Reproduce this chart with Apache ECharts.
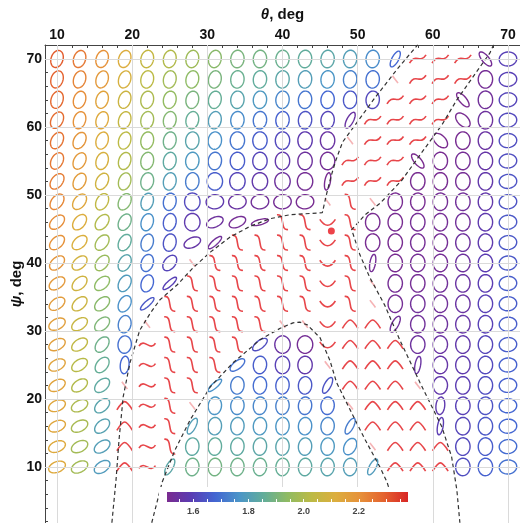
<!DOCTYPE html>
<html><head><meta charset="utf-8">
<script src="https://cdn.jsdelivr.net/npm/echarts@6/dist/echarts.min.js"></script>
<style>html,body{margin:0;padding:0;background:#fff}#c{width:520px;height:523px}</style>
</head><body><div id="c"></div>
<script>
// ---------- data ----------
const THETA = [10,13,16,19,22,25,28,31,34,37,40,43,46,49,52,55,58,61,64,67,70];
const PSI   = [70,67,64,61,58,55,52,49,46,43,40,37,34,31,28,25,22,19,16,13,10];
const AXIS_TICKS = [10,20,30,40,50,60,70];
const MINOR_TICKS = [2,4,6,8,10,12,14,16,18,20,22,24,26,28,30,32,34,36,38,40,42,44,46,48,50,52,54,56,58,60,62,64,66,68,70,72];
const BAR_LABELS = [1.6,1.8,2.0,2.2];
const BAR_TICKS = [1.55,1.60,1.65,1.70,1.75,1.80,1.85,1.90,1.95,2.00,2.05,2.10,2.15,2.20,2.25,2.30,2.35];
const VMIN = 1.505, VMAX = 2.378;
const PALETTE = ['#7a2b8f','#5a3cb3','#4366d2','#4b95c8','#62ad9a','#8fbb63','#bcba45','#dcae3e','#e6913a','#e4622e','#d82626'];

// ellipse colour value per cell (row = psi, col = theta); null = red glyph cell
const R0  = [2.30,2.25,2.20,2.12,2.05,2.01,1.97,1.93,1.90,1.89,1.87,1.85,1.83,1.80,1.75,1.68,null,null,null,1.52,1.60];
const R1  = [2.29,2.23,2.18,2.10,2.03,1.98,1.94,1.90,1.87,1.85,1.83,1.80,1.77,1.73,1.70,null,null,null,null,1.52,1.60];
const R2  = [2.28,2.21,2.15,2.07,2.00,1.95,1.90,1.86,1.82,1.78,1.74,1.71,1.68,1.65,1.62,null,null,null,1.50,1.53,1.61];
const R3  = [2.27,2.20,2.13,2.05,1.98,1.92,1.86,1.80,1.75,1.71,1.67,1.64,1.61,1.55,null,null,null,null,1.51,1.54,1.62];
const R4  = [2.26,2.19,2.12,2.03,1.95,1.88,1.82,1.76,1.71,1.66,1.62,1.58,1.55,null,null,null,null,1.50,1.51,1.55,1.63];
const R5  = [2.25,2.18,2.10,2.01,1.92,1.84,1.78,1.71,1.66,1.61,1.57,1.54,1.52,null,null,null,1.50,1.51,1.52,1.56,1.63];
const R6  = [2.24,2.17,2.08,1.98,1.88,1.80,1.72,1.66,1.61,1.57,1.54,1.52,1.51,null,null,null,1.51,1.51,1.52,1.57,1.64];
const R7  = [2.22,2.14,2.04,1.92,1.80,1.70,1.62,1.58,1.55,1.53,1.52,1.51,null,null,null,1.51,1.51,1.52,1.53,1.57,1.64];
const R8  = [2.21,2.12,2.01,1.88,1.76,1.66,1.58,1.54,1.52,1.51,null,null,null,null,1.51,1.51,1.52,1.52,1.53,1.58,1.65];
const R9  = [2.20,2.11,1.98,1.85,1.72,1.64,1.56,1.53,null,null,null,null,null,null,1.51,1.51,1.52,1.52,1.54,1.58,1.65];
const R10 = [2.19,2.09,1.96,1.82,1.70,1.61,null,null,null,null,null,null,null,null,1.52,1.51,1.52,1.52,1.54,1.59,1.65];
const R11 = [2.18,2.08,1.94,1.79,1.68,1.60,null,null,null,null,null,null,null,null,null,1.52,1.52,1.53,1.55,1.59,1.66];
const R12 = [2.17,2.07,1.93,1.76,1.65,null,null,null,null,null,null,null,null,null,null,1.52,1.53,1.53,1.55,1.60,1.66];
const R13 = [2.16,2.06,1.91,1.73,null,null,null,null,null,null,null,null,null,null,null,1.53,1.53,1.54,1.56,1.60,1.66];
const R14 = [2.16,2.04,1.88,1.70,null,null,null,null,null,1.63,1.55,1.52,null,null,null,null,1.54,1.55,1.57,1.61,1.66];
const R15 = [2.15,2.02,1.86,1.68,null,null,null,null,1.70,1.66,1.60,1.57,null,null,null,null,1.55,1.56,1.58,1.62,1.67];
const R16 = [2.15,2.01,1.84,null,null,null,null,1.76,1.72,1.69,1.67,1.65,1.64,null,null,null,null,1.57,1.59,1.63,1.67];
const R17 = [2.14,2.00,1.82,null,null,null,null,1.77,1.75,1.74,1.73,1.71,1.69,null,null,null,null,1.58,1.60,1.64,1.68];
const R18 = [2.14,1.99,1.81,null,null,null,1.80,1.80,1.79,1.78,1.77,1.76,1.74,1.72,null,null,null,1.59,1.61,1.65,1.68];
const R19 = [2.13,1.98,1.80,null,null,null,1.84,1.85,1.84,1.83,1.82,1.80,1.78,1.76,null,null,null,null,1.62,1.66,1.69];
const R20 = [2.13,1.98,1.79,null,null,1.83,1.88,1.89,1.88,1.87,1.86,1.84,1.82,1.80,1.79,null,null,null,1.63,1.67,1.70];
const VALUES = [R0,R1,R2,R3,R4,R5,R6,R7,R8,R9,R10,R11,R12,R13,R14,R15,R16,R17,R18,R19,R20];

// shape code per cell: letters = ellipse type, digits = red glyph type
const SHAPES = [
 "AAAABBBBCCCCCCCy222wF",
 "AAAABBBBCCCCCCC5222DF",
 "AAAABBBBCCCCCCC222wDF",
 "GAAABBBBCCCCCy2222WDF",
 "GGAABBCCDDDDD5222WDDF",
 "GGAABBCCDDDDD222wDDDF",
 "KGGABBCOOOOOz222DDDDF",
 "KKGGABOFFFFF515DDDDDF",
 "LKKGABOPPv1141DDDDDDF",
 "LLKGABPx111141DDDDDDF",
 "LLKGAK51111141zDDDDDF",
 "MLLGAx111111415DDDDDF",
 "MLLGx1111111415DDDDDF",
 "NMLB51111155433yDDDDF",
 "NMKC61111XOO4333DDDDF",
 "NMKZ6111XCDD5333zDDDF",
 "NML5611xCCCCy3335DDDF",
 "UNL3615CCCCCC5333ZDDF",
 "UNL361yCCCCCCy333zDDF",
 "UNM361CCCCCCCG5333DDF",
 "UNM36yCCCCCCCCy333DDF"
];

// dashed boundary curves [theta, psi]
const BOUNDARY_A = [[17.3,1.8],[17.85,8.1],[18.25,14.0],[18.8,20.3],[19.7,25.3],[21.0,30.1],[22.4,32.6],[23.7,34.6],[26.0,36.8],[28.1,39.3],[30.4,41.6],[33.0,43.8],[35.7,45.4],[38.3,46.5],[41.0,47.1],[45.3,47.4],[45.9,50.3],[46.5,52.9],[47.1,55.1],[48.0,57.8],[49.4,59.9],[52.3,64.3],[55.4,68.7],[58.0,72.1]];
const BOUNDARY_B = [[68.1,72.1],[67.6,70.9],[63.2,64.0],[61.2,60.3],[58.3,55.9],[55.9,52.2],[53.0,48.8],[51.0,47.1],[49.2,44.9],[50.3,41.2],[51.6,37.9],[53.6,33.8],[55.6,28.7],[58.3,22.4],[61.2,15.9],[62.5,11.5],[63.2,6.6],[63.6,1.8]];
const DOME_C = [[22.6,1.8],[24.0,7.8],[25.7,12.5],[27.7,16.9],[30.4,21.8],[33.4,25.3],[37.0,28.7],[39.7,30.4],[41.4,31.2],[42.3,31.3],[43.3,30.9],[45.0,29.0],[46.3,25.7],[47.2,22.4],[49.0,18.4],[51.0,14.0],[53.0,9.9],[53.9,7.8],[55.6,1.8]];
const RED_POINT = [46.5, 44.7];

// ---------- shape tables (angle deg CCW of major axis, minor/major ratio) ----------
const ELL = {A:[72,.68],B:[78,.72],C:[84,.76],D:[88,.82],O:[90,.88],F:[6,.8],G:[62,.66],K:[52,.64],L:[42,.62],M:[34,.6],N:[27,.6],U:[22,.6],P:[24,.55],W:[135,.6],w:[130,.4],x:[42,.3],X:[38,.45],y:[62,.38],z:[80,.32],Z:[84,.5],v:[15,.3]};
const GLYPH = {
 '1':[[-0.6,-0.8],[0.35,-0.95],[-0.35,0.95],[0.6,0.8]],
 '2':[[-0.9,0.45],[-0.3,-0.7],[0.25,0.55],[0.9,-0.45]],
 '3':[[-0.85,0.45],[-0.1,-0.75],[0.1,-0.75],[0.85,0.45]],
 '4':[[-0.85,-0.3],[-0.3,0.55],[0.3,0.55],[0.85,-0.3]],
 '5':[[-0.3,-0.4],[-0.1,-0.1],[0.1,0.1],[0.3,0.4]],
 '6':[[-0.9,0.15],[-0.3,-0.8],[0.3,0.8],[0.9,-0.15]]
};

const ellData = [], ellCode = [], glyphData = [], glyphCode = [];
PSI.forEach((ps, r) => THETA.forEach((th, c) => {
  const v = VALUES[r][c], code = SHAPES[r][c];
  if (v === null) { glyphData.push([th, ps]); glyphCode.push(code); }
  else { ellData.push([th, ps, v]); ellCode.push(code); }
}));

const FONT = 'Liberation Sans, Arial, sans-serif';
const XMIN = 8.4, XMAX = 71.6, YMIN = 1.76, YMAX = 72.06;
const inRange = (arr, lo, hi) => arr.filter(v => v >= lo && v <= hi);

const chart = echarts.init(document.getElementById('c'));
chart.setOption({
  animation: false,
  backgroundColor: '#fff',
  grid: [
    {left: 45, top: 45, right: 0, bottom: 0, containLabel: false, outerBoundsMode: 'none'},
    {left: 167, top: 492, width: 241, height: 10, containLabel: false, outerBoundsMode: 'none'}
  ],
  xAxis: [
    {gridIndex: 0, type: 'value', position: 'top', min: XMIN, max: XMAX,
     name: '{i|θ}{b|, deg}', nameLocation: 'middle', nameGap: 23,
     nameTextStyle: {rich: {i: {fontStyle: 'italic', fontWeight: 'bold', fontSize: 15, fontFamily: FONT, color: '#111'},
                            b: {fontWeight: 'bold', fontSize: 15, fontFamily: FONT, color: '#111'}}},
     axisLine: {show: true, onZero: false, lineStyle: {color: '#444', width: 1}},
     axisTick: {show: true, inside: true, length: 3, lineStyle: {color: '#444'}, customValues: inRange(MINOR_TICKS, XMIN, XMAX)},
     axisLabel: {show: true, customValues: AXIS_TICKS, margin: 3, fontSize: 14, fontWeight: 'bold', fontFamily: FONT, color: '#111'},
     splitLine: {show: false}},
    {gridIndex: 1, type: 'value', position: 'bottom', min: VMIN, max: VMAX, z: 12,
     axisLine: {show: false},
     axisTick: {show: true, inside: true, length: 3, lineStyle: {color: '#fff', width: 1}, customValues: BAR_TICKS},
     axisLabel: {show: true, customValues: BAR_LABELS, formatter: v => v.toFixed(1), margin: 5, fontSize: 9, fontWeight: 'bold', fontFamily: FONT, color: '#444'},
     splitLine: {show: false}}
  ],
  yAxis: [
    {gridIndex: 0, type: 'value', min: YMIN, max: YMAX,
     name: '{i|ψ}{b|, deg}', nameLocation: 'middle', nameGap: 21, nameMoveOverlap: false,
     nameTextStyle: {rich: {i: {fontStyle: 'italic', fontWeight: 'bold', fontSize: 15, fontFamily: FONT, color: '#111'},
                            b: {fontWeight: 'bold', fontSize: 15, fontFamily: FONT, color: '#111'}}},
     axisLine: {show: true, onZero: false, lineStyle: {color: '#444', width: 1}},
     axisTick: {show: true, inside: true, length: 3, lineStyle: {color: '#444'}, customValues: inRange(MINOR_TICKS, YMIN, YMAX)},
     axisLabel: {show: true, customValues: AXIS_TICKS, margin: 3, fontSize: 14, fontWeight: 'bold', fontFamily: FONT, color: '#111'},
     splitLine: {show: false}},
    {gridIndex: 1, type: 'value', min: 0, max: 1, show: false}
  ],
  visualMap: {show: false, type: 'continuous', min: VMIN, max: VMAX, dimension: 2, seriesIndex: [1], inRange: {color: PALETTE}},
  series: [
    {type: 'line', xAxisIndex: 0, yAxisIndex: 0, data: [[10, 70]], showSymbol: false, silent: true, z: 1,
     lineStyle: {opacity: 0},
     markLine: {silent: true, symbol: ['none', 'none'], label: {show: false}, animation: false,
       lineStyle: {color: '#dadada', width: 1, type: 'solid'},
       data: AXIS_TICKS.map(v => ({xAxis: v})).concat(AXIS_TICKS.map(v => ({yAxis: v})))}},
    {type: 'custom', xAxisIndex: 0, yAxisIndex: 0, data: ellData, z: 2, silent: true,
     renderItem: function (params, api) {
       const p = api.coord([api.value(0), api.value(1)]);
       const sz = api.size([3, 3]);
       const e = ELL[ellCode[params.dataIndex]];
       const phi = e[0] * Math.PI / 180, a = 0.43 * sz[1], b = a * e[1];
       const pts = [];
       for (let k = 0; k < 40; k++) {
         const t = k / 40 * 2 * Math.PI, x = a * Math.cos(t), y = b * Math.sin(t);
         pts.push([p[0] + x * Math.cos(phi) - y * Math.sin(phi), p[1] - (x * Math.sin(phi) + y * Math.cos(phi))]);
       }
       return {type: 'polygon', shape: {points: pts}, style: {fill: 'none', stroke: api.visual('color'), lineWidth: 1.4}};
     }},
    {type: 'custom', xAxisIndex: 0, yAxisIndex: 0, data: glyphData, z: 2, silent: true,
     renderItem: function (params, api) {
       const p = api.coord([api.value(0), api.value(1)]);
       const s = 0.45 * api.size([3, 3])[1];
       const code = glyphCode[params.dataIndex];
       const g = GLYPH[code];
       return {type: 'bezierCurve',
         shape: {x1: p[0] + g[0][0] * s, y1: p[1] + g[0][1] * s, cpx1: p[0] + g[1][0] * s, cpy1: p[1] + g[1][1] * s,
                 cpx2: p[0] + g[2][0] * s, cpy2: p[1] + g[2][1] * s, x2: p[0] + g[3][0] * s, y2: p[1] + g[3][1] * s},
         style: {fill: null, stroke: '#e3262a', lineWidth: 1.6, opacity: code === '5' ? 0.35 : 0.85}};
     }},
    {type: 'line', xAxisIndex: 0, yAxisIndex: 0, data: BOUNDARY_A, showSymbol: false, z: 3, silent: true,
     lineStyle: {color: '#333', width: 1.2, type: [4, 3]}},
    {type: 'line', xAxisIndex: 0, yAxisIndex: 0, data: BOUNDARY_B, showSymbol: false, z: 3, silent: true,
     lineStyle: {color: '#333', width: 1.2, type: [4, 3]}},
    {type: 'line', xAxisIndex: 0, yAxisIndex: 0, data: DOME_C, showSymbol: false, z: 3, silent: true,
     lineStyle: {color: '#333', width: 1.2, type: [4, 3]}},
    {type: 'scatter', xAxisIndex: 0, yAxisIndex: 0, data: [RED_POINT], symbolSize: 7, z: 4, silent: true,
     itemStyle: {color: '#e8141c'}},
    {type: 'custom', xAxisIndex: 1, yAxisIndex: 1, data: [[VMIN, 0]], z: 10, silent: true, clip: false,
     renderItem: function (params, api) {
       const p0 = api.coord([VMIN, 1]), p1 = api.coord([VMAX, 0]);
       const n = PALETTE.length;
       return {type: 'group', children: [
         {type: 'rect', shape: {x: p0[0] - 8, y: p0[1] - 5, width: p1[0] - p0[0] + 16, height: 60}, style: {fill: '#fff'}},
         {type: 'rect', shape: {x: p0[0], y: p0[1], width: p1[0] - p0[0], height: p1[1] - p0[1]},
          style: {fill: {type: 'linear', x: 0, y: 0, x2: 1, y2: 0, colorStops: PALETTE.map((c, i) => ({offset: i / (n - 1), color: c}))}}}
       ]};
     }}
  ]
});
</script></body></html>
